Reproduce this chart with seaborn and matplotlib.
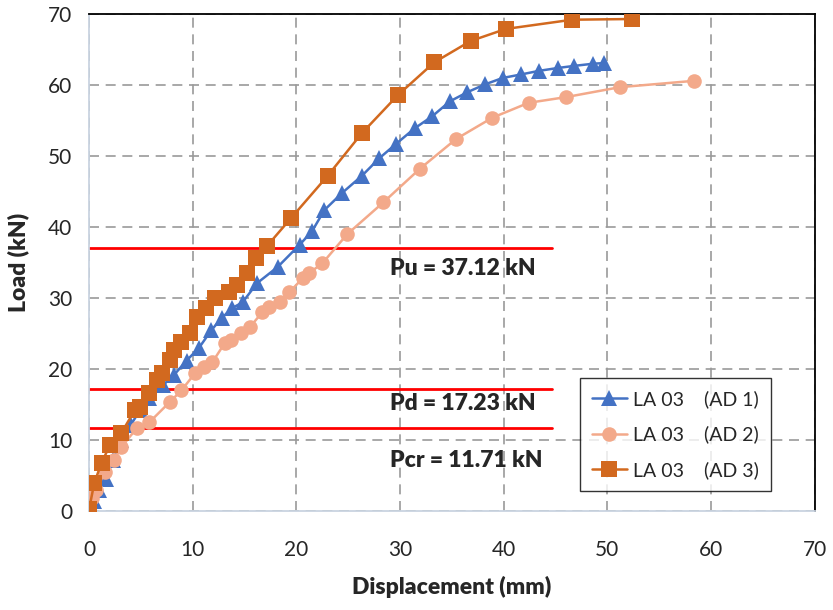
import matplotlib
matplotlib.use('Agg')
import matplotlib.pyplot as plt
import seaborn as sns

# displacement (mm) / load (kN)
ad1_disp = [0, 0.5, 1.0, 1.6, 2.3, 3.1, 4.0, 4.9, 5.8, 7.1, 8.2, 9.4, 10.6, 11.8, 12.8, 13.8, 14.8,
            16.2, 18.2, 20.3, 21.5, 22.7, 24.4, 26.3, 28.0, 29.6, 31.4, 33.1, 34.8, 36.5, 38.2,
            39.9, 41.7, 43.4, 45.2, 46.8, 48.6, 49.7]
ad1_load = [0, 1.5, 3.0, 4.6, 7.2, 10.0, 12.1, 14.2, 15.9, 17.7, 19.2, 21.2, 23.0, 25.5, 27.2, 28.6, 29.4,
            32.1, 34.4, 37.5, 39.4, 42.4, 44.8, 47.2, 49.7, 51.7, 53.9, 55.6, 57.7, 59.0, 60.1,
            61.0, 61.5, 62.0, 62.4, 62.7, 63.0, 63.1]

ad2_disp = [0, 0.3, 0.7, 1.5, 2.4, 3.1, 4.6, 5.8, 7.8, 8.9, 10.2, 11.1, 11.9, 13.1, 13.7, 14.7, 15.5,
            16.7, 17.4, 18.4, 19.3, 20.6, 21.2, 22.5, 24.9, 28.4, 31.9, 35.4, 38.9, 42.4, 46.0,
            51.2, 58.4]
ad2_load = [0, 1.8, 3.0, 5.5, 7.2, 9.0, 11.7, 12.5, 15.4, 17.0, 19.4, 20.3, 21.0, 23.7, 24.1, 25.1, 25.9,
            28.0, 28.7, 29.4, 30.8, 32.8, 33.5, 34.9, 39.0, 43.5, 48.2, 52.4, 55.4, 57.5, 58.3,
            59.7, 60.6]

ad3_disp = [0, 0.5, 1.2, 2.0, 3.1, 4.4, 4.9, 5.8, 6.5, 7.0, 7.8, 8.2, 8.9, 9.7, 10.4, 11.3, 12.1,
            13.5, 14.3, 15.2, 16.1, 17.2, 19.5, 23.0, 26.3, 29.8, 33.3, 36.8, 40.2, 46.6, 52.4]
ad3_load = [0.3, 4.0, 6.8, 9.3, 11.0, 14.2, 14.6, 16.6, 18.5, 19.4, 21.3, 22.7, 23.8, 25.1, 27.3, 28.6, 30.0,
            30.8, 31.8, 33.5, 35.6, 37.4, 41.3, 47.2, 53.2, 58.6, 63.2, 66.2, 67.9, 69.2, 69.3]

# characteristic loads (kN)
levels = [37.12, 17.23, 11.71]
level_labels = ['Pu = 37.12 kN', 'Pd = 17.23 kN', 'Pcr = 11.71 kN']
label_y = [34.2, 15.1, 7.2]

sns.set_style('white')
plt.rcParams['font.family'] = ['Lato', 'DejaVu Sans']

fig = plt.figure(figsize=(8.33, 6.10), dpi=100)
ax = fig.add_axes([0.107, 0.162, 0.871, 0.815])

ax.grid(True, color='#9a9a9a', linestyle=(0, (6, 4)), linewidth=1.2)
ax.set_axisbelow(True)

# red threshold lines and their labels
for lv, txt, ty in zip(levels, level_labels, label_y):
    ax.plot([0, 44.7], [lv, lv], color='red', lw=2.0, zorder=2)
    ax.text(29.0, ty, txt, fontsize=16.5, fontweight='heavy', va='center', ha='left', zorder=5)

sns.lineplot(x=ad1_disp, y=ad1_load, ax=ax, sort=False, estimator=None, color='#4472C4',
             marker='^', markersize=12, markeredgewidth=0, lw=1.8, label='LA 03    (AD 1)', zorder=3)
sns.lineplot(x=ad2_disp, y=ad2_load, ax=ax, sort=False, estimator=None, color='#F3A98A',
             marker='o', markersize=10.5, markeredgewidth=0, lw=1.8, label='LA 03    (AD 2)', zorder=3)
sns.lineplot(x=ad3_disp, y=ad3_load, ax=ax, sort=False, estimator=None, color='#D2691F',
             marker='s', markersize=11, markeredgewidth=0, lw=1.8, label='LA 03    (AD 3)', zorder=4)

ax.set_xlim(0, 70)
ax.set_ylim(0, 70)
ax.set_xticks(range(0, 71, 10))
ax.set_yticks(range(0, 71, 10))
ax.tick_params(length=0, labelsize=15)
ax.tick_params(axis='x', pad=21)
ax.tick_params(axis='y', pad=12)

for s in ['top', 'right']:
    ax.spines[s].set_color('black')
    ax.spines[s].set_linewidth(1.3)
for s in ['left', 'bottom']:
    ax.spines[s].set_color('#c9d3e0')
    ax.spines[s].set_linewidth(1.3)

ax.set_xlabel('Displacement (mm)', fontsize=16.5, fontweight='heavy', labelpad=11)
ax.set_ylabel('Load (kN)', fontsize=16.5, fontweight='heavy', labelpad=14)

leg = ax.legend(loc='lower right', bbox_to_anchor=(0.953, 0.022), fontsize=14, frameon=True,
                fancybox=False, edgecolor='black', handlelength=1.85, borderpad=0.6, labelspacing=0.9,
                handletextpad=0.3)
leg.get_frame().set_linewidth(1.0)

fig.savefig('out.png', dpi=100)
